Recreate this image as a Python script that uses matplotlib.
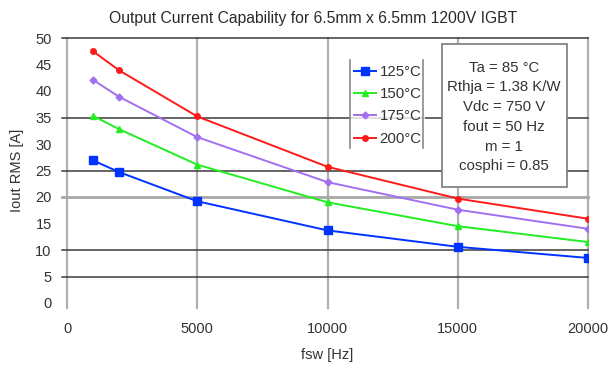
import matplotlib
matplotlib.use("Agg")
import matplotlib.pyplot as plt
from matplotlib.patches import Rectangle

plt.rcParams['font.family'] = ['Liberation Sans', 'DejaVu Sans']

# data
fsw = [1000, 2000, 5000, 10000, 15000, 20000]
i_125 = [26.9, 24.7, 19.2, 13.7, 10.6, 8.5]
i_150 = [35.3, 32.8, 26.1, 19.0, 14.5, 11.5]
i_175 = [42.1, 38.9, 31.3, 22.8, 17.6, 14.0]
i_200 = [47.5, 43.9, 35.2, 25.7, 19.7, 15.9]
labels = ['125°C', '150°C', '175°C', '200°C']
yticks = [0, 5, 10, 15, 20, 25, 30, 35, 40, 45, 50]
xticks = [0, 5000, 10000, 15000, 20000]
info = "Ta = 85 °C\nRthja = 1.38 K/W\nVdc = 750 V\nfout = 50 Hz\nm = 1\ncosphi = 0.85"

W, H = 613, 365
fig = plt.figure(figsize=(W / 100, H / 100), dpi=100)
ax = fig.add_axes([67 / W, 1 - 303 / H, (588 - 67) / W, (303 - 38) / H])
ax.set_xlim(0, 20000)
ax.set_ylim(0, 50)
for s in ax.spines.values():
    s.set_visible(False)


def px(x, y):
    # figure pixel (from top-left) -> axes fraction
    return (x - 67) / 521, (303 - y) / 265


# grid as it shows in the picture
ytr = ax.get_yaxis_transform()
xtr = ax.get_xaxis_transform()
dx = 5 / 521
dy = 5 / 265
for v in [5, 10, 25, 35, 50]:
    ax.plot([-dx, 1], [v, v], transform=ytr, color='#3a3a3a', lw=1.1, clip_on=False, zorder=1)
ax.plot([-dx, 1], [20, 20], transform=ytr, color='#a8a8a8', lw=2.0, clip_on=False, zorder=1)
for v in xticks:
    ax.plot([v, v], [-dy, 1], transform=xtr, color='#b0b0b0', lw=1.6, clip_on=False, zorder=0.9)

ax.set_xticks(xticks)
ax.set_yticks(yticks)
ax.tick_params(axis='both', length=0, labelsize=10.5, colors='#333333')
ax.tick_params(axis='y', pad=11)
ax.tick_params(axis='x', pad=14)

ax.plot(fsw, i_125, color='#0033ff', marker='s', ms=6, lw=1.4, label=labels[0], zorder=3)
ax.plot(fsw, i_150, color='#22ee22', marker='^', ms=5, lw=1.4, label=labels[1], zorder=3)
ax.plot(fsw, i_175, color='#a070f0', marker='D', ms=3.5, lw=1.4, label=labels[2], zorder=3)
ax.plot(fsw, i_200, color='#ff1a1a', marker='o', ms=4, lw=1.4, label=labels[3], zorder=3)

ax.set_xlabel('fsw [Hz]', fontsize=10.5, color='#333333', labelpad=8)
ax.set_ylabel('Iout RMS [A]', fontsize=10.5, color='#333333', labelpad=8)
fig.text(313 / W, 1 - 19 / H, 'Output Current Capability for 6.5mm x 6.5mm 1200V IGBT',
         ha='center', va='center', fontsize=11.3, color='#2a2a2a')

leg = ax.legend(loc='upper left', bbox_to_anchor=px(351, 62),
                frameon=True, fontsize=10.8, handlelength=1.45, handletextpad=0.25,
                labelspacing=0.55, borderpad=0.2, borderaxespad=0)
leg.get_frame().set_edgecolor('white')
leg.get_frame().set_linewidth(0)
leg.set_zorder(5)
for t in leg.get_texts():
    t.set_color('#333333')
# the legend only shows its side borders
for x in [350, 423]:
    fig.add_artist(plt.Line2D([x / W, x / W], [1 - 60 / H, 1 - 148 / H],
                              color='#8a8a8a', lw=1.2, zorder=6))

x0, y0 = px(442, 187)
x1, y1 = px(567, 44)
ax.add_patch(Rectangle((x0, y0), x1 - x0, y1 - y0, transform=ax.transAxes,
                       fc='white', ec='#7a7a7a', lw=1.2, zorder=6, clip_on=False))
ax.text(*px(504, 117), info, transform=ax.transAxes,
        ha='center', va='center', fontsize=10.8, color='#333333', linespacing=1.52,
        zorder=7)

fig.savefig('out.png', dpi=100, facecolor='white')
